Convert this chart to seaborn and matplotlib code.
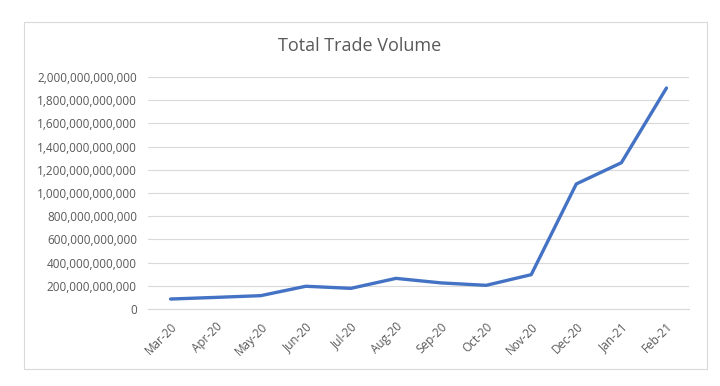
import numpy as np
import pandas as pd
import matplotlib
matplotlib.use("Agg")
import matplotlib.pyplot as plt
from matplotlib.ticker import FuncFormatter, FixedLocator
from matplotlib.patches import Rectangle
import seaborn as sns

# data
months = ["Mar-20", "Apr-20", "May-20", "Jun-20", "Jul-20", "Aug-20",
          "Sep-20", "Oct-20", "Nov-20", "Dec-20", "Jan-21", "Feb-21"]
volume = [86e9, 100e9, 115e9, 196e9, 178e9, 264e9,
          225e9, 204e9, 296e9, 1078e9, 1261e9, 1905e9]
y_ticks = np.arange(0, 2.0e12 + 1, 2.0e11)

df = pd.DataFrame({"pos": np.arange(len(months)), "volume": volume})

sns.set_style("white")
plt.rcParams["font.family"] = ["Open Sans", "DejaVu Sans"]

fig = plt.figure(figsize=(7.2, 3.86), dpi=100)
ax = fig.add_axes([148 / 720, 1 - 309 / 386, 541 / 720, 232 / 386])

sns.lineplot(data=df, x="pos", y="volume", ax=ax, color="#4472C4", linewidth=2.4)

ax.set_xlim(-0.5, len(months) - 0.5)
ax.set_ylim(0, 2.0e12)
ax.set_yticks(y_ticks)
ax.yaxis.set_major_formatter(FuncFormatter(lambda v, _: f"{v:,.0f}"))
ax.set_xticks(df["pos"])
ax.set_xticklabels(months, rotation=45, ha="right", rotation_mode="anchor")
ax.xaxis.set_minor_locator(FixedLocator(np.arange(-0.5, len(months), 1.0)))
ax.tick_params(axis="x", which="major", length=0, pad=8, labelsize=8.5, colors="#595959")
ax.tick_params(axis="x", which="minor", length=4, color="#D9D9D9", width=0.8)
ax.tick_params(axis="y", length=0, pad=8, labelsize=8.5, colors="#595959")
ax.grid(axis="y", color="#D9D9D9", linewidth=0.8)
ax.set_axisbelow(True)
for side in ["top", "right", "left"]:
    ax.spines[side].set_visible(False)
ax.spines["bottom"].set_color("#D9D9D9")
ax.set_xlabel("")
ax.set_ylabel("")

fig.text(0.5, 1 - 46 / 386, "Total Trade Volume", ha="center", va="center",
         fontsize=13, color="#595959")

# chart border like the spreadsheet frame
fig.patches.append(Rectangle((24 / 720, 1 - 369 / 386), 683 / 720, 347 / 386,
                             transform=fig.transFigure, fill=False,
                             edgecolor="#D9D9D9", linewidth=0.8))

fig.savefig("out.png", dpi=100)
